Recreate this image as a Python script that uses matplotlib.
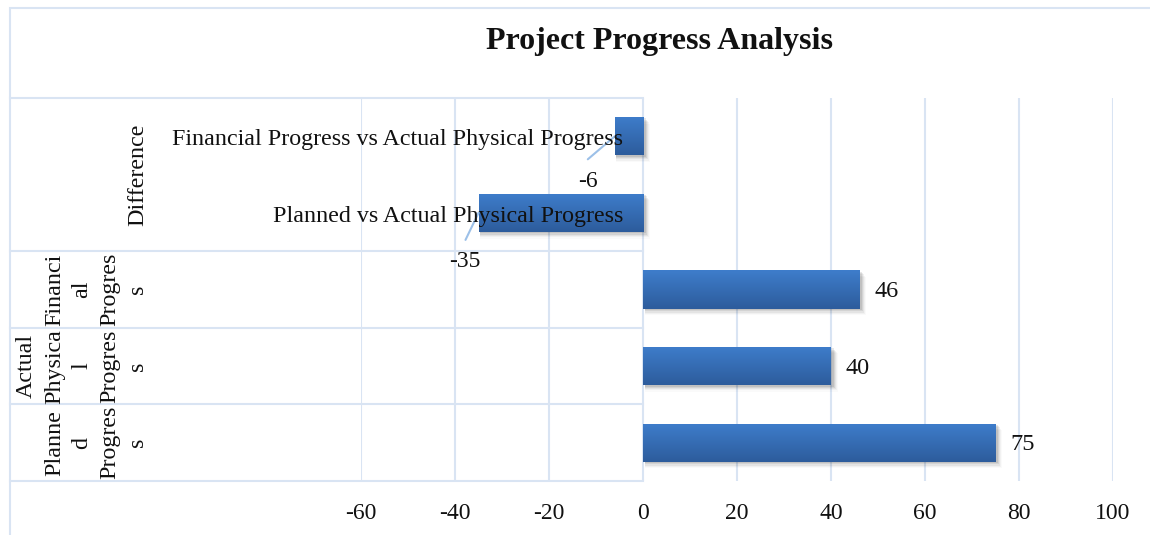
import numpy as np
import matplotlib
matplotlib.use("Agg")
import matplotlib.pyplot as plt
from matplotlib.patches import Rectangle
from matplotlib.transforms import blended_transform_factory

# ---------------- data ----------------
group_labels = ["Planned Progress", "Actual Physical Progress", "Financial Progress", "Difference"]
group_wrapped = [["Planne", "d", "Progres", "s"],
                 ["Actual", "Physica", "l", "Progres", "s"],
                 ["Financi", "al", "Progres", "s"],
                 ["Difference"]]
group_sizes = [1, 1, 1, 2]
bar_labels = ["", "", "", "Planned vs Actual Physical Progress",
              "Financial Progress vs Actual Physical Progress"]
values = [75, 40, 46, -35, -6]
x_ticks = [-60, -40, -20, 0, 20, 40, 60, 80, 100]
title = "Project Progress Analysis"

# ---------------- style ----------------
W, H, DPI = 1150, 535, 100
GRID = "#D9E4F3"
LEADER = "#9CC0E8"
TOP_C = np.array([0x3E, 0x7D, 0xCB]) / 255
BOT_C = np.array([0x2D, 0x5C, 0x9C]) / 255
SERIF = ["Liberation Serif", "DejaVu Serif"]
plt.rcParams["font.family"] = SERIF
TXT = "#111111"

fig = plt.figure(figsize=(W / DPI, H / DPI), dpi=DPI)
fig.patch.set_facecolor("white")

def fx(px):
    return px / W

def fy(py):
    return 1 - py / H

# chart-area border (cropped at right/bottom)
fig.add_artist(Rectangle((fx(10), fy(540)), fx(1200) - fx(10), fy(8) - fy(540),
                         transform=fig.transFigure, fill=False, edgecolor=GRID, lw=1.5))

ax = fig.add_axes([fx(361), fy(481), fx(1113) - fx(361), fy(98) - fy(481)])
ax.set_facecolor("none")
for s in ax.spines.values():
    s.set_visible(False)

n = len(values)
ypos = np.arange(n)
bar_h = 0.5
XMIN, XMAX = x_ticks[0], x_ticks[-1]

# gridlines
for xt in x_ticks:
    ax.axvline(xt, color=GRID, lw=1.5, zorder=0)

# bars with gradient + soft shadow
grad = np.linspace(0, 1, 64)[:, None, None]
img = TOP_C[None, None, :] * (1 - grad) + BOT_C[None, None, :] * grad
px_per_unit = (1113 - 361) / (XMAX - XMIN)
unit_per_px_y = 1.0 / 76.6
for y, v in zip(ypos, values):
    x0, x1 = min(0, v), max(0, v)
    for k, a in enumerate([0.09, 0.07, 0.05, 0.035, 0.02]):
        off = (k + 1)
        sh = Rectangle((x0 + 1.5 / px_per_unit, y - bar_h / 2 - off * unit_per_px_y * 1.3),
                       (x1 - x0) + off / px_per_unit,
                       bar_h, facecolor="black", alpha=a, lw=0, zorder=1)
        ax.add_patch(sh)
    rect = Rectangle((x0, y - bar_h / 2), x1 - x0, bar_h, facecolor=BOT_C, lw=0, zorder=2)
    ax.add_patch(rect)
    im = ax.imshow(img, extent=(x0, x1, y - bar_h / 2, y + bar_h / 2),
                   aspect="auto", origin="upper", zorder=3, interpolation="bilinear")
    im.set_clip_path(rect)

ax.set_xlim(XMIN, XMAX)
ax.set_ylim(-0.5, n - 0.5)
ax.set_xticks(x_ticks)
ax.set_xticklabels([str(t) for t in x_ticks])
ax.tick_params(axis="x", length=0, pad=16, labelsize=17, labelcolor=TXT)
ax.set_yticks([])

# data labels for positive bars
for y, v, lab in zip(ypos, values, bar_labels):
    if v >= 0:
        ax.annotate(str(v), xy=(v, y), xytext=(15, -2), textcoords="offset pixels",
                    ha="left", va="center", fontsize=17.5, color=TXT, zorder=5)

# labels for difference bars (category name + value with leader line)
val_offsets = {3: (-14, -54), 4: (-27, -51)}
leader_start = {3: (-13, -27), 4: (-27, -23)}
for i in (3, 4):
    v = values[i]
    ax.annotate(bar_labels[i], xy=(0, ypos[i]), xytext=(-20, -9), textcoords="offset pixels",
                ha="right", va="baseline", fontsize=17.3, color=TXT, zorder=6)
    ax.annotate(str(v), xy=(v, ypos[i]), xytext=val_offsets[i], textcoords="offset pixels",
                ha="center", va="baseline", fontsize=17, color=TXT, zorder=6)
    ax.annotate("", xy=(v, ypos[i]), xytext=leader_start[i], textcoords="offset pixels",
                arrowprops=dict(arrowstyle="-", color=LEADER, lw=1.5,
                                shrinkA=0, shrinkB=0, relpos=(0.5, 0.5)),
                zorder=4)

# category axis separators (from chart border to the zero line)
trans = blended_transform_factory(fig.transFigure, ax.transData)
zero_fx = fx(361) + (0 - XMIN) / (XMAX - XMIN) * (fx(1113) - fx(361))
bounds = np.concatenate([[-0.5], -0.5 + np.cumsum(group_sizes)])
for b in bounds:
    ax.plot([fx(10), zero_fx], [b, b], transform=trans, color=GRID, lw=1.5,
            clip_on=False, zorder=0)

# rotated group labels
line_step = 27.7 / W
last_x = fx(143)
for gi, lines in enumerate(group_wrapped):
    lo, hi = bounds[gi], bounds[gi + 1]
    yc = (lo + hi) / 2
    m = len(lines)
    for li, txt in enumerate(lines):
        xb = last_x - (m - 1 - li) * line_step
        ax.text(xb, yc, txt, transform=trans, rotation=90, rotation_mode="anchor",
                ha="center", va="baseline", fontsize=17.3, color=TXT, clip_on=False)

fig.text(fx(660), fy(42), title, ha="center", va="center", fontsize=23,
         fontweight="bold", color=TXT)

fig.savefig("out.png", dpi=DPI)
